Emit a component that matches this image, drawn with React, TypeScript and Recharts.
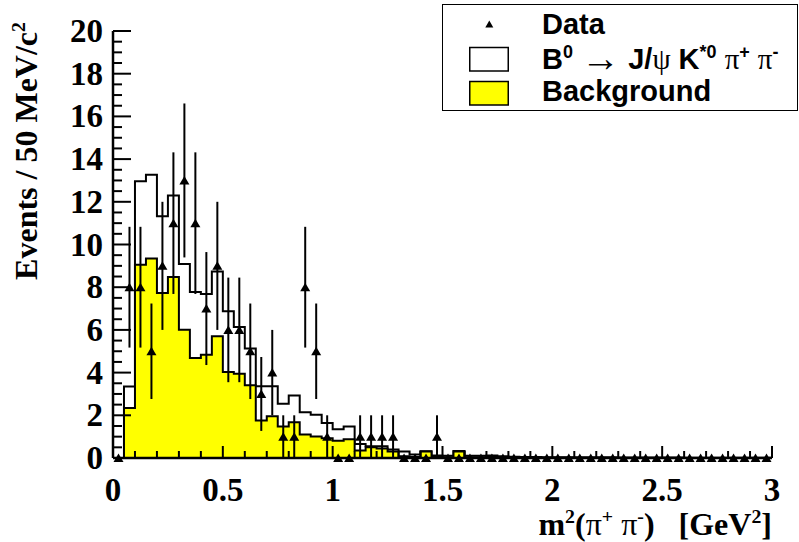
import { ComposedChart, Area, Scatter, ErrorBar, XAxis, YAxis } from 'recharts';

// 60 bins of 0.05 GeV^2 between 0 and 3
const BIN_WIDTH = 0.05;

// background (yellow) histogram
const BACKGROUND = [
  0, 2.34, 9.05, 9.35, 7.73, 8.48, 6.01, 4.68, 4.84, 5.7,
  4.03, 3.95, 3.41, 1.76, 1.95, 1.47, 1.67, 1.1, 1.01, 0.92,
  0.81, 0.88, 0.35, 0.5, 0.45, 0.3, 0.08, 0.05, 0.3, 0.05,
  0.04, 0.3, 0.03, 0.03, 0.05, 0.02, 0.02, 0.02, 0.01, 0.01,
  0.01, 0.01, 0, 0, 0, 0, 0, 0, 0, 0,
  0, 0, 0, 0, 0, 0, 0, 0, 0, 0,
];

// B0 -> J/psi K*0 pi+ pi- stacked on top of background (white histogram)
const TOTAL = [
  0, 3.35, 12.96, 13.27, 11.32, 12.3, 9.09, 7.78, 7.68, 8.74,
  6.87, 6.14, 5.13, 3.36, 3.36, 2.54, 2.93, 2.14, 2.02, 1.64,
  1.35, 1.48, 0.65, 0.55, 0.55, 0.4, 0.31, 0.16, 0.32, 0.12,
  0.1, 0.33, 0.1, 0.1, 0.12, 0.08, 0.06, 0.05, 0.05, 0.04,
  0.04, 0.04, 0.03, 0.03, 0.03, 0.03, 0.02, 0.02, 0.02, 0.02,
  0.02, 0.02, 0.01, 0.01, 0.01, 0.01, 0.01, 0.01, 0.01, 0.01,
];

// observed events per bin
const DATA = [
  0, 8, 8, 5, 9, 11, 13, 11, 7, 9,
  6, 6, 5, 3, 4, 1, 1, 8, 5, 1,
  0, 0, 1, 1, 1, 1, 0, 0, 0, 1,
  0, 0, 0, 0, 0, 0, 0, 0, 0, 0,
  0, 0, 0, 0, 0, 0, 0, 0, 0, 0,
  0, 0, 0, 0, 0, 0, 0, 0, 0, 0,
];

const X_MAJOR = [0, 0.5, 1, 1.5, 2, 2.5, 3];
const X_LABELS = ['0', '0.5', '1', '1.5', '2', '2.5', '3'];
const Y_MAJOR = [0, 2, 4, 6, 8, 10, 12, 14, 16, 18, 20];
const Y_LABELS = ['0', '2', '4', '6', '8', '10', '12', '14', '16', '18', '20'];

const xTicks = Array.from({ length: 31 }, (_, i) => i / 10);
const yTicks = Array.from({ length: 41 }, (_, i) => i / 2);

const histRows = TOTAL.map((t, i) => ({
  x: Math.round(i * BIN_WIDTH * 100) / 100,
  total: t,
  bg: BACKGROUND[i],
}));
histRows.push({ x: 3, total: TOTAL[TOTAL.length - 1], bg: BACKGROUND[BACKGROUND.length - 1] });

const points = DATA.map((n, i) => ({
  x: (i + 0.5) * BIN_WIDTH,
  y: n,
  err: Math.sqrt(n),
}));

const tickFont = {
  fontFamily: '"Liberation Serif", "Times New Roman", serif',
  fontWeight: 700,
  fontSize: 33,
  fill: '#000',
};

const findLabel = (v: number, majors: number[], labels: string[]) => {
  const idx = majors.findIndex((m) => Math.abs(m - v) < 1e-6);
  return idx >= 0 ? labels[idx] : null;
};

const BottomTick = (props: any) => {
  const { x, y, payload } = props;
  const label = findLabel(payload.value, X_MAJOR, X_LABELS);
  return (
    <g>
      <line x1={x} y1={y} x2={x} y2={y - (label ? 12 : 7)} stroke="#000" strokeWidth={2} />
      {label && (
        <text x={x} y={y + 43} textAnchor="middle" style={tickFont}>
          {label}
        </text>
      )}
    </g>
  );
};

const TopTick = (props: any) => {
  const { x, y, payload } = props;
  const major = findLabel(payload.value, X_MAJOR, X_LABELS);
  return <line x1={x} y1={y} x2={x} y2={y + (major ? 12 : 7)} stroke="#000" strokeWidth={2} />;
};

const LeftTick = (props: any) => {
  const { x, y, payload } = props;
  const label = findLabel(payload.value, Y_MAJOR, Y_LABELS);
  return (
    <g>
      <line x1={x} y1={y} x2={x + (label ? 18 : 9)} y2={y} stroke="#000" strokeWidth={2} />
      {label && (
        <text x={x - 10} y={y + 11} textAnchor="end" style={tickFont}>
          {label}
        </text>
      )}
    </g>
  );
};

const RightTick = (props: any) => {
  const { x, y, payload } = props;
  const major = findLabel(payload.value, Y_MAJOR, Y_LABELS);
  return <line x1={x} y1={y} x2={x - (major ? 18 : 9)} y2={y} stroke="#000" strokeWidth={2} />;
};

const Triangle = (props: any) => {
  const { cx, cy } = props;
  return <polygon points={`${cx},${cy - 4.5} ${cx - 5},${cy + 4} ${cx + 5},${cy + 4}`} fill="#000" />;
};

const axisLine = { stroke: '#000', strokeWidth: 2.5 };

const sans = '"Liberation Sans", Arial, Helvetica, sans-serif';
const serif = '"Liberation Serif", "Times New Roman", serif';

const sup = { fontSize: '0.62em', position: 'relative' as const, top: '-0.6em', lineHeight: 1 };
const sym = { fontFamily: serif, fontWeight: 400 };

export default function App() {
  return (
    <div style={{ position: 'absolute', left: 0, top: 0, width: 799, height: 542, background: '#fff' }}>
      <ComposedChart
        width={799}
        height={542}
        data={histRows}
        margin={{ top: 31, right: 27, bottom: 0, left: 0 }}
      >
        <XAxis
          dataKey="x"
          type="number"
          domain={[0, 3]}
          ticks={xTicks}
          interval={0}
          height={84}
          axisLine={axisLine}
          tickLine={false}
          tickSize={0}
          tickMargin={0}
          tick={(p: any) => <BottomTick {...p} />}
        />
        <XAxis
          xAxisId="top"
          orientation="top"
          dataKey="x"
          type="number"
          domain={[0, 3]}
          ticks={xTicks}
          interval={0}
          height={0}
          axisLine={axisLine}
          tickLine={false}
          tickSize={0}
          tickMargin={0}
          tick={(p: any) => <TopTick {...p} />}
        />
        <YAxis
          type="number"
          domain={[0, 20]}
          ticks={yTicks}
          interval={0}
          width={113}
          axisLine={axisLine}
          tickLine={false}
          tickSize={0}
          tickMargin={0}
          tick={(p: any) => <LeftTick {...p} />}
        />
        <YAxis
          yAxisId="right"
          orientation="right"
          type="number"
          domain={[0, 20]}
          ticks={yTicks}
          interval={0}
          width={0}
          axisLine={axisLine}
          tickLine={false}
          tickSize={0}
          tickMargin={0}
          tick={(p: any) => <RightTick {...p} />}
        />
        <Area
          type="stepAfter"
          dataKey="total"
          stroke="#000"
          strokeWidth={2}
          fill="#ffffff"
          fillOpacity={1}
          dot={false}
          activeDot={false}
          isAnimationActive={false}
        />
        <Area
          type="stepAfter"
          dataKey="bg"
          stroke="#000"
          strokeWidth={2}
          fill="#ffff00"
          fillOpacity={1}
          dot={false}
          activeDot={false}
          isAnimationActive={false}
        />
        <Scatter
          data={points}
          dataKey="y"
          fill="#000"
          shape={(p: any) => <Triangle {...p} />}
          isAnimationActive={false}
        >
          <ErrorBar dataKey="err" direction="y" width={0} stroke="#000" strokeWidth={2} />
        </Scatter>
      </ComposedChart>

      {/* y axis title */}
      <div
        style={{
          position: 'absolute',
          left: 0,
          top: 0,
          width: 300,
          textAlign: 'right',
          whiteSpace: 'nowrap',
          transformOrigin: '0 0',
          transform: 'translate(8px, 322px) rotate(-90deg)',
          fontFamily: serif,
          fontWeight: 700,
          fontSize: 32,
          lineHeight: 'normal',
        }}
      >
        Events / 50 MeV/c<span style={sup}>2</span>
      </div>

      {/* x axis title */}
      <div
        style={{
          position: 'absolute',
          right: 799 - 772,
          top: 506,
          whiteSpace: 'nowrap',
          fontFamily: serif,
          fontWeight: 700,
          fontSize: 32,
          lineHeight: 'normal',
        }}
      >
        m<span style={sup}>2</span>(<span style={sym}>π</span>
        <span style={sup}>+</span> <span style={sym}>π</span>
        <span style={sup}>-</span>)&nbsp;&nbsp;&nbsp;[GeV<span style={sup}>2</span>]
      </div>

      {/* legend */}
      <div
        style={{
          position: 'absolute',
          left: 442,
          top: 4,
          width: 356,
          height: 107,
          boxSizing: 'border-box',
          border: '1.5px solid #000',
          background: '#fff',
        }}
      />
      <svg style={{ position: 'absolute', left: 469, top: 4 }} width={42} height={106}>
        <polygon points="20.3,16.5 16.3,23.5 24.3,23.5" fill="#000" />
        <rect x={0.75} y={43.5} width={38.5} height={23.5} fill="#fff" stroke="#000" strokeWidth={1.5} />
        <rect x={0.75} y={77.5} width={38.5} height={23.5} fill="#ffff00" stroke="#000" strokeWidth={1.5} />
      </svg>
      <div
        style={{
          position: 'absolute',
          left: 542,
          top: 8,
          fontFamily: sans,
          fontWeight: 700,
          fontSize: 29,
          lineHeight: 'normal',
          whiteSpace: 'nowrap',
        }}
      >
        Data
      </div>
      <div
        style={{
          position: 'absolute',
          left: 542,
          top: 43,
          fontFamily: sans,
          fontWeight: 700,
          fontSize: 29,
          lineHeight: 'normal',
          whiteSpace: 'nowrap',
        }}
      >
        B<span style={sup}>0</span>{' '}
        <span style={{ ...sym, fontSize: '1.35em', lineHeight: 0, position: 'relative', top: '0.05em' }}>→</span> J/
        <span style={sym}>ψ</span> K<span style={sup}>*0</span> <span style={sym}>π</span>
        <span style={sup}>+</span> <span style={sym}>π</span>
        <span style={sup}>-</span>
      </div>
      <div
        style={{
          position: 'absolute',
          left: 542,
          top: 75,
          fontFamily: sans,
          fontWeight: 700,
          fontSize: 29,
          lineHeight: 'normal',
          whiteSpace: 'nowrap',
        }}
      >
        Background
      </div>
    </div>
  );
}
